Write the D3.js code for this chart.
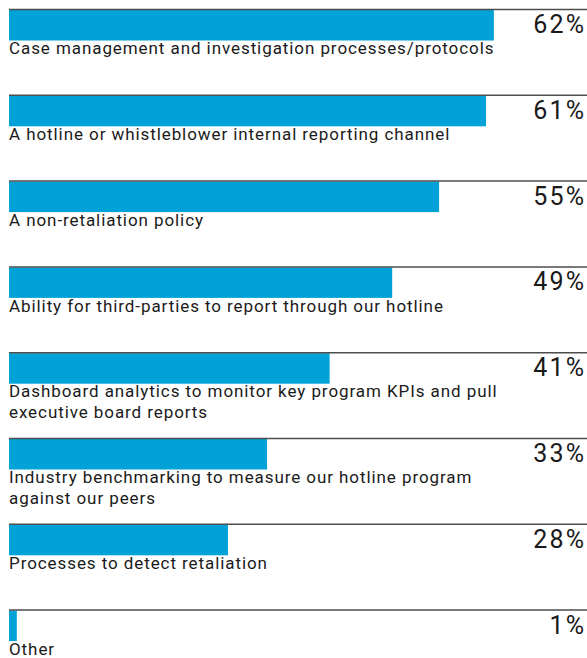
<!DOCTYPE html>
<html>
<head>
<meta charset="utf-8">
<script src="https://cdn.jsdelivr.net/npm/d3@7"></script>
<style>
  html, body { margin: 0; padding: 0; background: #fff; }
  svg { display: block; }
  text { font-family: Roboto, "Noto Sans", sans-serif; fill: #1a1a1a; }
</style>
</head>
<body>
<svg id="chart" width="587" height="658"></svg>
<script>
// Share of respondents citing each program component
const categories = [
  "Case management and investigation processes/protocols",
  "A hotline or whistleblower internal reporting channel",
  "A non-retaliation policy",
  "Ability for third-parties to report through our hotline",
  "Dashboard analytics to monitor key program KPIs and pull executive board reports",
  "Industry benchmarking to measure our hotline program against our peers",
  "Processes to detect retaliation",
  "Other"
];
const values = [62, 61, 55, 49, 41, 33, 28, 1];
const valueLabels = ["62%", "61%", "55%", "49%", "41%", "33%", "28%", "1%"];

const W = 587, H = 658;
const left = 9, right = 584;
const svg = d3.select("#chart");

const x = d3.scaleLinear().domain([0, 100]).range([left, left + 782]);
const y = d3.scaleBand()
  .domain(categories)
  .range([9.5, 9.5 + 85.8 * categories.length])
  .paddingInner(0).paddingOuter(0);

const barH = 30.5;

const rows = svg.selectAll("g.row")
  .data(categories.map((c, i) => ({ c, v: values[i], lab: valueLabels[i] })))
  .join("g")
  .attr("class", "row")
  .attr("transform", d => `translate(0,${y(d.c)})`);

rows.append("rect")
  .attr("x", x(0))
  .attr("y", 0.5)
  .attr("width", d => x(d.v) - x(0))
  .attr("height", barH)
  .attr("fill", "#00a2d7");

rows.append("line")
  .attr("x1", left).attr("x2", W)
  .attr("y1", 0).attr("y2", 0)
  .attr("stroke", "#4d4d4d")
  .attr("stroke-width", 1.5);

// value labels; trailing letter-spacing is offset so glyphs end at the right edge
const pctSpacing = 2.2;
rows.append("text")
  .attr("x", right + pctSpacing)
  .attr("y", 23.5)
  .attr("text-anchor", "end")
  .style("font-size", "25px")
  .style("letter-spacing", pctSpacing + "px")
  .text(d => d.lab);

// category labels, wrapped to the bar area
const maxW = 512;
rows.each(function (d) {
  const t = d3.select(this).append("text")
    .attr("x", left)
    .attr("y", 44.8)
    .style("font-size", "17px")
    .style("letter-spacing", "0.92px");
  const words = d.c.split(" ");
  let line = [];
  let tspan = t.append("tspan").attr("x", left).attr("dy", 0);
  words.forEach(w => {
    line.push(w);
    tspan.text(line.join(" "));
    if (tspan.node().getComputedTextLength() > maxW && line.length > 1) {
      line.pop();
      tspan.text(line.join(" "));
      line = [w];
      tspan = t.append("tspan").attr("x", left).attr("dy", 21).text(w);
    }
  });
});
</script>
</body>
</html>
